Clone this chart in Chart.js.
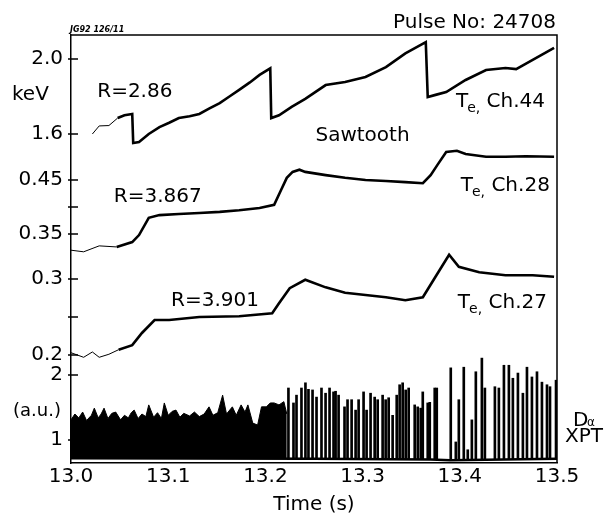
<!DOCTYPE html>
<html>
<head>
<meta charset="utf-8">
<script src="https://cdn.jsdelivr.net/npm/chart.js@4"></script>
<style>
  body { margin: 0; background: #fff; }
</style>
</head>
<body>
<canvas id="plot" width="612" height="517"></canvas>
<script>
// time axis (s)
const timeTicks = [13.0, 13.1, 13.2, 13.3, 13.4, 13.5];

// Te, Ch.44 (keV), R=2.86 - sawtooth
const t44 = [13.022, 13.029, 13.039, 13.048, 13.055, 13.063, 13.064, 13.070, 13.080, 13.091,
  13.101, 13.111, 13.122, 13.132, 13.142, 13.153, 13.163, 13.173, 13.184, 13.194,
  13.205, 13.206, 13.214, 13.227, 13.241, 13.262, 13.282, 13.303, 13.324, 13.344,
  13.365, 13.367, 13.376, 13.386, 13.406, 13.427, 13.447, 13.458, 13.475, 13.497];
const te44 = [1.600, 1.643, 1.645, 1.685, 1.700, 1.707, 1.552, 1.557, 1.600, 1.637,
  1.660, 1.685, 1.695, 1.707, 1.735, 1.765, 1.800, 1.835, 1.875, 1.915,
  1.950, 1.685, 1.700, 1.745, 1.787, 1.861, 1.877, 1.904, 1.957, 2.030,
  2.090, 1.797, 1.810, 1.824, 1.888, 1.941, 1.952, 1.946, 1.995, 2.059];

// Te, Ch.28 (keV), R=3.867
const t28 = [13.000, 13.013, 13.029, 13.047, 13.063, 13.070, 13.080, 13.091, 13.111, 13.132,
  13.153, 13.173, 13.194, 13.209, 13.216, 13.222, 13.228, 13.235, 13.241, 13.262,
  13.282, 13.303, 13.324, 13.344, 13.362, 13.370, 13.377, 13.386, 13.397, 13.406,
  13.427, 13.447, 13.468, 13.497];
const te28 = [0.320, 0.317, 0.328, 0.326, 0.335, 0.348, 0.380, 0.385, 0.387, 0.389,
  0.391, 0.394, 0.398, 0.404, 0.431, 0.454, 0.465, 0.469, 0.465, 0.459,
  0.454, 0.450, 0.448, 0.446, 0.444, 0.459, 0.478, 0.502, 0.504, 0.498,
  0.493, 0.493, 0.494, 0.493];

// Te, Ch.27 (keV), R=3.901
const t27 = [13.000, 13.013, 13.022, 13.029, 13.039, 13.049, 13.063, 13.073, 13.086, 13.101,
  13.132, 13.173, 13.207, 13.214, 13.225, 13.241, 13.262, 13.282, 13.303, 13.324,
  13.344, 13.362, 13.375, 13.389, 13.399, 13.420, 13.447, 13.475, 13.497];
const te27 = [0.203, 0.197, 0.204, 0.197, 0.201, 0.207, 0.213, 0.229, 0.246, 0.246,
  0.250, 0.251, 0.255, 0.268, 0.288, 0.299, 0.289, 0.282, 0.279, 0.276,
  0.272, 0.276, 0.303, 0.332, 0.316, 0.309, 0.305, 0.305, 0.303];

// D-alpha XPT (a.u.): dense noisy part, upper envelope
const daT = [13.000, 13.004, 13.008, 13.012, 13.016, 13.021, 13.024, 13.028, 13.031, 13.034,
  13.038, 13.042, 13.046, 13.051, 13.055, 13.059, 13.062, 13.065, 13.069, 13.073,
  13.077, 13.080, 13.085, 13.089, 13.093, 13.096, 13.100, 13.104, 13.108, 13.112,
  13.116, 13.122, 13.127, 13.132, 13.137, 13.142, 13.146, 13.151, 13.156, 13.160,
  13.166, 13.170, 13.175, 13.179, 13.182, 13.187, 13.192, 13.196, 13.201, 13.205,
  13.209, 13.214, 13.219, 13.222];
const daHi = [1.31, 1.40, 1.34, 1.43, 1.30, 1.38, 1.49, 1.34, 1.40, 1.49,
  1.33, 1.41, 1.43, 1.31, 1.38, 1.34, 1.42, 1.46, 1.33, 1.40,
  1.36, 1.54, 1.35, 1.42, 1.33, 1.57, 1.38, 1.44, 1.46, 1.35,
  1.41, 1.37, 1.43, 1.36, 1.40, 1.51, 1.38, 1.42, 1.69, 1.40,
  1.51, 1.38, 1.54, 1.43, 1.54, 1.26, 1.23, 1.51, 1.51, 1.57,
  1.57, 1.54, 1.59, 1.40];
const daFloor = 0.72;

// D-alpha: ELM spikes (time, peak)
const spikeT = [13.2237, 13.2289, 13.2320, 13.2371, 13.2412, 13.2443, 13.2485, 13.2526, 13.2577, 13.2619,
  13.2660, 13.2701, 13.2722, 13.2753, 13.2814, 13.2845, 13.2887, 13.2928, 13.2959, 13.3010,
  13.3041, 13.3082, 13.3124, 13.3155, 13.3206, 13.3237, 13.3268, 13.3309, 13.3351, 13.3381,
  13.3412, 13.3443, 13.3474, 13.3536, 13.3567, 13.3598, 13.3619, 13.3670, 13.3691, 13.3742,
  13.3763, 13.3907, 13.3959, 13.3990, 13.4041, 13.4082, 13.4124, 13.4165, 13.4227, 13.4258,
  13.4361, 13.4402, 13.4454, 13.4505, 13.4546, 13.4598, 13.4649, 13.4691, 13.4742, 13.4794,
  13.4845, 13.4897, 13.4928, 13.4990];
const spikePk = [1.80, 1.57, 1.69, 1.80, 1.88, 1.78, 1.77, 1.66, 1.80, 1.72,
  1.80, 1.74, 1.75, 1.69, 1.51, 1.62, 1.62, 1.46, 1.62, 1.74,
  1.46, 1.72, 1.66, 1.62, 1.69, 1.62, 1.65, 1.38, 1.69, 1.85,
  1.88, 1.77, 1.80, 1.54, 1.51, 1.49, 1.74, 1.57, 1.58, 1.80,
  1.80, 2.11, 0.97, 1.62, 2.12, 0.85, 1.31, 2.05, 2.26, 1.80,
  1.82, 1.80, 2.15, 2.15, 1.95, 2.03, 1.72, 2.12, 1.97, 2.05,
  1.89, 1.85, 1.82, 1.92];
const spikeBase = 0.70;

// baseline of D-alpha
const baseT = [13.0, 13.25, 13.37, 13.39, 13.5];
const baseV = [0.72, 0.71, 0.70, 0.69, 0.71];

// left-axis tick labels, per trace
const ticksA = [2.0, 1.6],          labelsA = ['2.0', '1.6'];
const ticksB = [0.45, 0.40, 0.35],  labelsB = ['0.45', '', '0.35'];
const ticksC = [0.3, 0.25, 0.2],    labelsC = ['0.3', '', '0.2'];
const ticksD = [2, 1],              labelsD = ['2', '1'];

const FONT = '"DejaVu Sans", sans-serif';
Chart.defaults.font.family = FONT;
Chart.defaults.font.size = 20;
Chart.defaults.color = '#000';

function pts(xs, ys) {
  return xs.map((x, i) => ({ x: x, y: ys[i] }));
}

// thin line at the very start, noisy (thick) later
const noisy = { borderWidth: c => (c.p0.parsed.x < 13.045 ? 1 : 2.6) };

const tickSets = [
  { axis: 'yA', vals: ticksA, labels: labelsA },
  { axis: 'yB', vals: ticksB, labels: labelsB },
  { axis: 'yC', vals: ticksC, labels: labelsC },
  { axis: 'yD', vals: ticksD, labels: labelsD },
];
const frameLabels = [];
tickSets.forEach(s => s.labels.forEach(l => frameLabels.push(l)));

const notes = [
  { text: 'R=2.86', axis: 'yA', t: 13.027, v: 1.837 },
  { text: 'Sawtooth', axis: 'yA', t: 13.2515, v: 1.600 },
  { text: 'R=3.867', axis: 'yB', t: 13.044, v: 0.4222 },
  { text: 'R=3.901', axis: 'yC', t: 13.103, v: 0.2737 },
];
const teNotes = [
  { ch: '44', axis: 'yA', t: 13.396, v: 1.781 },
  { ch: '28', axis: 'yB', t: 13.401, v: 0.4426 },
  { ch: '27', axis: 'yC', t: 13.398, v: 0.2711 },
];

const decor = {
  id: 'decor',
  afterDraw(chart) {
    const { ctx, chartArea: a, scales } = chart;
    ctx.save();
    ctx.strokeStyle = '#000';
    ctx.fillStyle = '#000';
    ctx.lineWidth = 1.5;
    ctx.beginPath();
    ctx.moveTo(a.left, a.top);
    ctx.lineTo(a.right, a.top);
    ctx.lineTo(a.right, a.bottom);
    scales.y.ticks.forEach(tk => {
      const py = scales.y.getPixelForValue(tk.value);
      ctx.moveTo(a.left - 3, py);
      ctx.lineTo(a.left + 7, py);
    });
    ctx.stroke();

    ctx.textAlign = 'left';
    ctx.textBaseline = 'alphabetic';
    ctx.font = '20px ' + FONT;
    notes.forEach(n => {
      ctx.fillText(n.text, scales.x.getPixelForValue(n.t), scales[n.axis].getPixelForValue(n.v) + 7);
    });
    teNotes.forEach(n => {
      const x = scales.x.getPixelForValue(n.t);
      const y = scales[n.axis].getPixelForValue(n.v) + 7;
      ctx.font = '20px ' + FONT;
      ctx.fillText('T', x, y);
      let w = ctx.measureText('T').width;
      ctx.font = '14px ' + FONT;
      ctx.fillText('e,', x + w - 1, y + 5);
      w += ctx.measureText('e,').width;
      ctx.font = '20px ' + FONT;
      ctx.fillText(' Ch.' + n.ch, x + w - 1, y);
    });

    ctx.font = '20px ' + FONT;
    ctx.fillText('keV', 12, 100);
    ctx.font = '18px ' + FONT;
    ctx.fillText('(a.u.)', 13, 416);
    ctx.font = '20px ' + FONT;
    ctx.fillText('D', 573, 426);
    ctx.font = '12px ' + FONT;
    ctx.fillText('\u03b1', 587, 426);
    ctx.font = '20px ' + FONT;
    ctx.fillText('XPT', 565, 442);
    ctx.textAlign = 'right';
    ctx.fillText('Pulse No: 24708', 556, 28);
    ctx.textAlign = 'left';
    ctx.font = 'italic bold 8px ' + FONT;
    ctx.fillText('JG92 126/11', 70, 32);
    ctx.restore();
  }
};

new Chart(document.getElementById('plot'), {
  type: 'line',
  data: {
    datasets: [
      { data: pts(t44, te44), yAxisID: 'yA', borderColor: '#000', segment: noisy, pointRadius: 0 },
      { data: pts(t28, te28), yAxisID: 'yB', borderColor: '#000', segment: noisy, pointRadius: 0 },
      { data: pts(t27, te27), yAxisID: 'yC', borderColor: '#000', segment: noisy, pointRadius: 0 },
      { data: pts(daT, daHi), yAxisID: 'yD', borderColor: '#000', borderWidth: 1,
        backgroundColor: '#000', fill: { value: daFloor }, pointRadius: 0 },
      { data: pts(baseT, baseV), yAxisID: 'yD', borderColor: '#000', borderWidth: 2.5, pointRadius: 0 },
      { type: 'bar', data: spikeT.map((t, i) => ({ x: t, y: [spikeBase, spikePk[i]] })),
        yAxisID: 'yD', backgroundColor: '#000', borderWidth: 0, barThickness: 2, grouped: false }
    ]
  },
  options: {
    responsive: false,
    animation: false,
    layout: { padding: { top: 35, right: 55, left: 0, bottom: 0 } },
    plugins: { legend: { display: false }, tooltip: { enabled: false } },
    elements: { line: { tension: 0 } },
    scales: {
      x: {
        type: 'linear', min: 13.0, max: 13.5, offset: false,
        afterBuildTicks: s => { s.ticks = timeTicks.map(v => ({ value: v })); },
        afterFit: s => { s.height = 54; },
        ticks: { padding: 2, callback: v => v.toFixed(1), maxRotation: 0 },
        grid: { drawOnChartArea: false, drawTicks: false },
        border: { color: '#000', width: 1.5 },
        title: { display: true, text: 'Time (s)', padding: { top: 0, bottom: 0 } }
      },
      y: {
        position: 'left', min: 0, max: 1,
        afterBuildTicks: s => {
          const list = [];
          tickSets.forEach(set => {
            const o = s.chart.options.scales[set.axis];
            set.vals.forEach(v => list.push({ value: (v - o.min) / (o.max - o.min) }));
          });
          s.ticks = list;
        },
        afterFit: s => { s.width = 71; },
        ticks: { padding: 8, autoSkip: false, callback: (v, i) => frameLabels[i] },
        grid: { drawOnChartArea: false, drawTicks: false },
        border: { color: '#000', width: 1.5 }
      },
      yA: { display: false, min: -0.1547, max: 2.128 },
      yB: { display: false, min: -0.0741, max: 0.7185 },
      yC: { display: false, min: 0.0579, max: 0.6211 },
      yD: { display: false, min: 0.6462, max: 7.2308 }
    }
  },
  plugins: [decor]
});
</script>
</body>
</html>
